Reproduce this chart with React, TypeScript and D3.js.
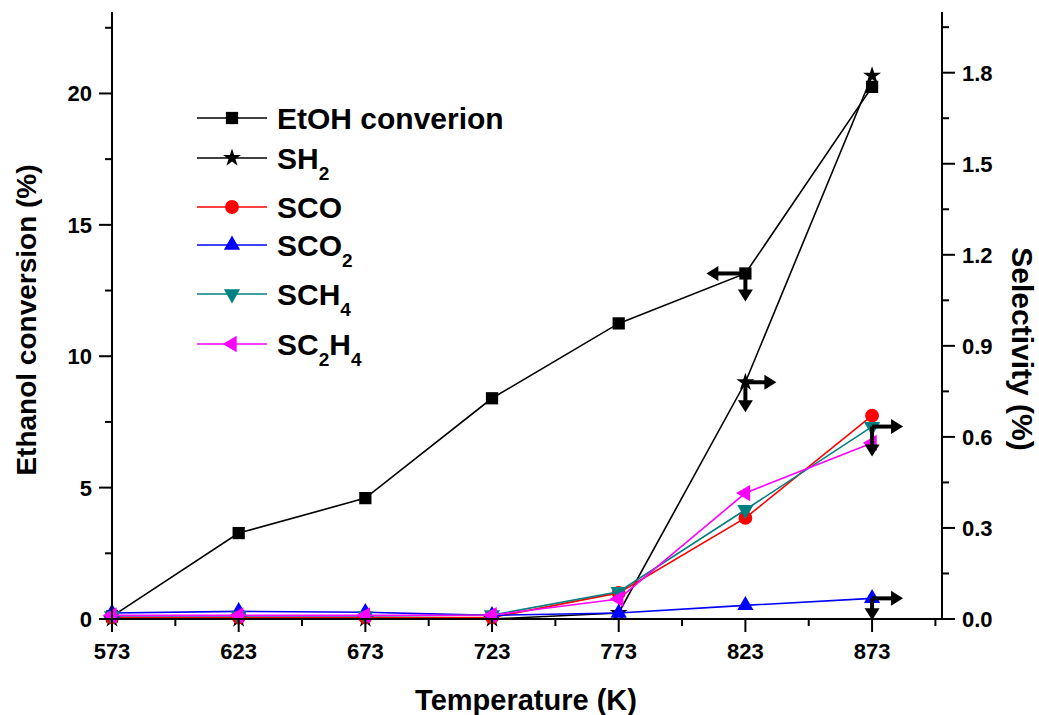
import React from 'react';
import * as d3 from 'd3';

// temperatures (K)
const temps = [573, 623, 673, 723, 773, 823, 873];

// left axis: ethanol conversion (%)
const etohConversion = [0.1, 3.27, 4.6, 8.4, 11.25, 13.15, 20.25];

// right axis: selectivity (%)
const sH2 = [0, 0, 0, 0, 0.02, 0.78, 1.79];
const sCO = [0.005, 0.005, 0.005, 0.005, 0.086, 0.333, 0.67];
const sCO2 = [0.02, 0.025, 0.022, 0.012, 0.02, 0.045, 0.068];
const sCH4 = [0.01, 0.01, 0.01, 0.013, 0.09, 0.36, 0.634];
const sC2H4 = [0.012, 0.012, 0.012, 0.013, 0.066, 0.415, 0.58];

const xTicks = [573, 623, 673, 723, 773, 823, 873];
const xMinor = [598, 648, 698, 748, 798, 848, 898];
const leftTicks = [0, 5, 10, 15, 20];
const leftMinor = [2.5, 7.5, 12.5, 17.5, 22.5];
const rightTicks = [0, 0.3, 0.6, 0.9, 1.2, 1.5, 1.8];
const rightMinor = [0.15, 0.45, 0.75, 1.05, 1.35, 1.65, 1.95];

type Series = {
  label: string;
  values: number[];
  axis: 'left' | 'right';
  color: string;
  symbol: d3.SymbolType;
  size: number;
  rotate: number;
};

const series: Series[] = [
  { label: 'EtOH converion', values: etohConversion, axis: 'left', color: '#000000', symbol: d3.symbolSquare, size: 150, rotate: 0 },
  { label: 'SH_2', values: sH2, axis: 'right', color: '#000000', symbol: d3.symbolStar, size: 100, rotate: 0 },
  { label: 'SCO', values: sCO, axis: 'right', color: '#ff0000', symbol: d3.symbolCircle, size: 150, rotate: 0 },
  { label: 'SCO_2', values: sCO2, axis: 'right', color: '#0000ff', symbol: d3.symbolTriangle, size: 115, rotate: 0 },
  { label: 'SCH_4', values: sCH4, axis: 'right', color: '#008080', symbol: d3.symbolTriangle, size: 115, rotate: 180 },
  { label: 'SC_2H_4', values: sC2H4, axis: 'right', color: '#ff00ff', symbol: d3.symbolTriangle, size: 115, rotate: -90 },
];

// arrows showing which axis a curve belongs to
const arrowNotes = [
  { t: 823, v: 13.15, axis: 'left', dir: 'left', len: 39 },
  { t: 823, v: 13.15, axis: 'left', dir: 'down', len: 28 },
  { t: 823, v: 0.78, axis: 'right', dir: 'right', len: 31 },
  { t: 823, v: 0.78, axis: 'right', dir: 'down', len: 30 },
  { t: 873, v: 0.634, axis: 'right', dir: 'right', len: 31 },
  { t: 873, v: 0.634, axis: 'right', dir: 'down', len: 30 },
  { t: 873, v: 0.068, axis: 'right', dir: 'right', len: 31 },
  { t: 873, v: 0.068, axis: 'right', dir: 'down', len: 22 },
];

const legendRows = [118, 158, 207, 245, 294, 344];

const W = 1039;
const H = 715;
const left = 112;
const right = 942;
const top = 12;
const bottom = 619;
const FONT = '"Liberation Sans", Arial, sans-serif';

const x = d3.scaleLinear().domain([573, 900.6]).range([left, right]);
const yL = d3.scaleLinear().domain([0, 23.1]).range([bottom, top]);
const yR = d3.scaleLinear().domain([0, 2.0]).range([bottom, top]);

const labelParts = (label: string) => {
  const parts: { t: string; sub: boolean }[] = [];
  label.split(/(_\d)/).forEach((p) => {
    if (!p) return;
    if (p.startsWith('_')) parts.push({ t: p.slice(1), sub: true });
    else parts.push({ t: p, sub: false });
  });
  return parts;
};

const Arrow = ({ x0, y0, dir, len }: { x0: number; y0: number; dir: string; len: number }) => {
  const u = dir === 'left' ? [-1, 0] : dir === 'right' ? [1, 0] : [0, 1];
  const headLen = 12;
  const hw = 7.5;
  const tip = [x0 + u[0] * len, y0 + u[1] * len];
  const base = [tip[0] - u[0] * headLen, tip[1] - u[1] * headLen];
  const p = [-u[1], u[0]];
  const head = `M${tip[0]},${tip[1]}L${base[0] + p[0] * hw},${base[1] + p[1] * hw}L${base[0] - p[0] * hw},${base[1] - p[1] * hw}Z`;
  return (
    <g>
      <line x1={x0} y1={y0} x2={base[0] + u[0]} y2={base[1] + u[1]} stroke="#000" strokeWidth={4} />
      <path d={head} fill="#000" />
    </g>
  );
};

export default function App() {
  return (
    <svg width={W} height={H} style={{ position: 'absolute', left: 0, top: 0, background: '#fff' }} fontFamily={FONT} fontWeight="bold">
      {/* series */}
      {series.map((s) => {
        const yS = s.axis === 'left' ? yL : yR;
        const line = d3.line<number>().x((_, i) => x(temps[i])).y((d) => yS(d));
        const sym = d3.symbol().type(s.symbol).size(s.size)();
        return (
          <g key={s.label}>
            <path d={line(s.values) || ''} fill="none" stroke={s.color} strokeWidth={1.6} />
            {s.values.map((v, i) => (
              <path key={i} d={sym || ''} fill={s.color} transform={`translate(${x(temps[i])},${yS(v)}) rotate(${s.rotate})`} />
            ))}
          </g>
        );
      })}

      {/* axes */}
      <g stroke="#000" strokeWidth={2} fill="none">
        <line x1={left} y1={top} x2={left} y2={bottom + 1} />
        <line x1={right} y1={top} x2={right} y2={bottom + 1} />
        <line x1={left} y1={bottom} x2={right} y2={bottom} />
        {xTicks.map((t) => <line key={'xt' + t} x1={x(t)} x2={x(t)} y1={bottom} y2={bottom + 13} />)}
        {xMinor.map((t) => <line key={'xm' + t} x1={x(t)} x2={x(t)} y1={bottom} y2={bottom + 7} />)}
        {leftTicks.map((t) => <line key={'lt' + t} x1={left - 13} x2={left} y1={yL(t)} y2={yL(t)} />)}
        {leftMinor.map((t) => <line key={'lm' + t} x1={left - 7} x2={left} y1={yL(t)} y2={yL(t)} />)}
        {rightTicks.map((t) => <line key={'rt' + t} x1={right} x2={right + 13} y1={yR(t)} y2={yR(t)} />)}
        {rightMinor.map((t) => <line key={'rm' + t} x1={right} x2={right + 7} y1={yR(t)} y2={yR(t)} />)}
      </g>
      <g fontSize={22} fill="#000">
        {xTicks.map((t) => (
          <text key={'xl' + t} x={x(t)} y={bottom + 40} textAnchor="middle">{t}</text>
        ))}
        {leftTicks.map((t) => (
          <text key={'ll' + t} x={left - 20} y={yL(t)} dy="0.36em" textAnchor="end">{t}</text>
        ))}
        {rightTicks.map((t) => (
          <text key={'rl' + t} x={right + 20} y={yR(t)} dy="0.36em" textAnchor="start">{d3.format('.1f')(t)}</text>
        ))}
      </g>

      {/* axis titles */}
      <text x={526} y={710} fontSize={29} textAnchor="middle">Temperature (K)</text>
      <text transform={`translate(36,${(163 + 477) / 2}) rotate(-90)`} fontSize={28} textAnchor="middle">Ethanol conversion (%)</text>
      <text transform={`translate(1012,349) rotate(90)`} fontSize={30} textAnchor="middle">Selectivity (%)</text>

      {/* legend */}
      {series.map((s, i) => {
        const ly = legendRows[i];
        const sym = d3.symbol().type(s.symbol).size(s.size)();
        return (
          <g key={'lg' + s.label}>
            <line x1={197} x2={267} y1={ly} y2={ly} stroke={s.color} strokeWidth={1.6} />
            <path d={sym || ''} fill={s.color} transform={`translate(232,${ly}) rotate(${s.rotate})`} />
            <text x={277} y={ly + 11} fontSize={30} fill="#000">
              {labelParts(s.label).map((p, j) => (
                <tspan key={j} fontSize={p.sub ? 19 : 30} dy={p.sub ? 11 : j > 0 ? -11 : 0}>{p.t}</tspan>
              ))}
            </text>
          </g>
        );
      })}

      {/* axis arrows */}
      {arrowNotes.map((a, i) => (
        <Arrow key={'ar' + i} x0={x(a.t)} y0={(a.axis === 'left' ? yL : yR)(a.v)} dir={a.dir} len={a.len} />
      ))}
    </svg>
  );
}
